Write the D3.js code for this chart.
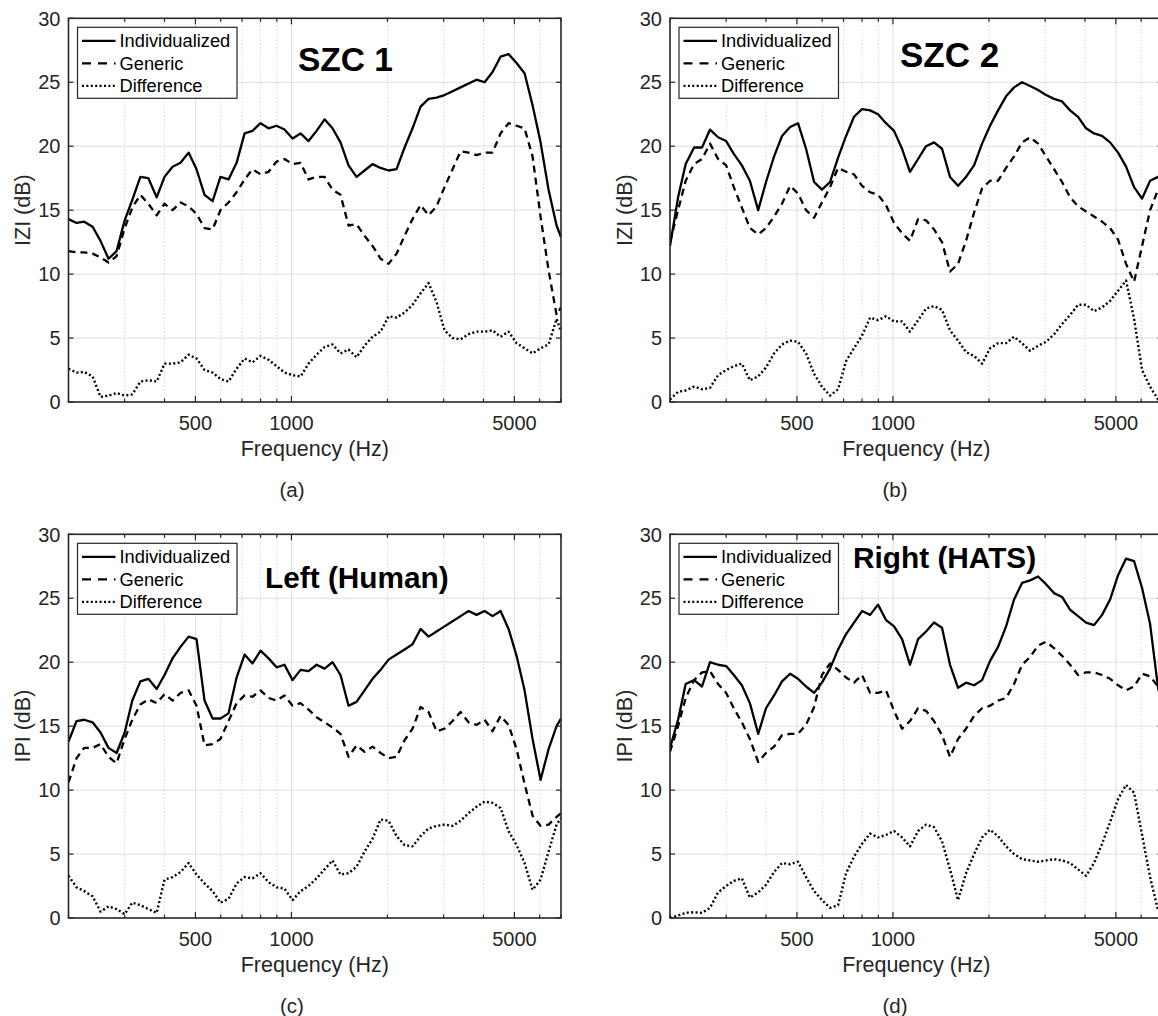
<!DOCTYPE html>
<html>
<head>
<meta charset="utf-8">
<script src="https://cdn.jsdelivr.net/npm/d3@7"></script>
<style>
	body { margin:0; background:#fff; }
	svg { display:block; font-family:"Liberation Sans", Arial, sans-serif; }
</style>
</head>
<body>
<div id="chart"></div>
<script>

// frequency grid shared by all curves (Hz)
const freqHz = [200,212,224,238,252,267,283,300,317,336,356,378,400,424,449,476,504,534,566,599,635,673,713,755,800,848,898,951,1008,1068,1131,1199,1270,1345,1425,1510,1600,1695,1796,1903,2016,2136,2263,2397,2540,2691,2851,3020,3200,3390,3592,3805,4032,4271,4525,4794,5079,5381,5701,6040,6399,6780,7000];

// (a) SZC 1, |Z| in dB
const szc1Individualized = [14.3,14.0,14.1,13.7,12.6,11.2,11.8,14.2,15.8,17.6,17.5,16.0,17.6,18.4,18.7,19.5,18.2,16.2,15.7,17.6,17.4,18.7,21.0,21.2,21.8,21.4,21.6,21.3,20.6,21.0,20.4,21.2,22.1,21.4,20.3,18.5,17.6,18.1,18.6,18.3,18.1,18.2,19.9,21.4,23.1,23.7,23.8,24.0,24.3,24.6,24.9,25.2,25.0,25.8,27.0,27.2,26.5,25.7,23.2,20.3,16.6,13.8,12.9];
const szc1Generic = [11.8,11.7,11.7,11.6,11.3,10.9,11.4,13.6,15.2,16.2,15.5,14.6,15.5,15.0,15.6,15.3,14.7,13.6,13.5,15.0,15.6,16.4,17.4,18.2,17.8,18.0,18.8,19.0,18.6,18.7,17.4,17.6,17.6,16.6,16.2,13.8,13.9,13.0,12.2,11.2,10.8,11.6,13.0,14.3,15.4,14.6,15.3,16.8,18.2,19.6,19.5,19.3,19.5,19.5,21.0,21.8,21.6,21.4,19.2,14.5,10.3,6.8,7.4];
const szc1Difference = [2.6,2.3,2.35,2.0,0.4,0.5,0.7,0.5,0.6,1.6,1.7,1.6,3.0,3.0,3.1,3.7,3.4,2.5,2.3,1.8,1.6,2.6,3.4,3.1,3.6,3.3,2.8,2.3,2.1,2.0,3.0,3.7,4.3,4.5,3.8,4.1,3.5,4.4,5.1,5.5,6.7,6.6,7.0,7.6,8.5,9.3,7.8,5.6,5.0,4.9,5.3,5.5,5.5,5.6,5.1,5.5,4.6,4.2,3.8,4.2,4.5,6.5,5.5];

// (b) SZC 2, |Z| in dB
const szc2Individualized = [12.2,16.0,18.6,19.9,19.9,21.3,20.7,20.4,19.4,18.5,17.3,15.0,17.2,19.2,20.8,21.5,21.8,19.8,17.2,16.6,17.2,19.1,20.8,22.3,22.9,22.8,22.5,21.8,21.2,19.8,18.0,19.0,20.0,20.3,19.8,17.6,16.9,17.6,18.5,20.2,21.6,22.8,23.9,24.6,25.0,24.7,24.4,24.0,23.7,23.5,22.8,22.3,21.4,21.0,20.8,20.3,19.5,18.4,16.8,15.9,17.3,17.6,17.5];
const szc2Generic = [12.5,15.0,17.3,18.6,19.0,20.2,19.0,18.5,16.8,15.2,13.6,13.1,13.6,14.5,15.5,16.9,16.3,15.0,14.4,15.6,16.8,18.3,18.0,17.8,16.9,16.4,16.2,15.4,14.0,13.2,12.6,14.3,14.2,13.5,12.5,10.2,10.8,12.6,14.8,16.7,17.3,17.3,18.3,19.2,20.3,20.7,20.2,19.2,18.2,17.2,16.0,15.3,14.9,14.5,14.1,13.6,12.7,10.8,9.4,12.2,15.0,16.6,17.0];
const szc2Difference = [0.2,0.8,0.9,1.2,1.0,1.1,2.1,2.5,2.8,3.0,1.7,2.0,2.7,3.8,4.5,4.8,4.7,3.8,2.2,1.2,0.5,1.0,3.2,4.2,5.2,6.6,6.4,6.7,6.3,6.3,5.5,6.4,7.3,7.5,7.2,5.6,4.8,3.9,3.6,3.0,4.2,4.6,4.6,5.1,4.6,4.0,4.4,4.7,5.3,6.1,6.8,7.6,7.6,7.1,7.4,7.9,8.7,9.5,6.5,2.5,1.2,0.2,0.1];

// (c) Left (Human), |P| in dB
const leftIndividualized = [13.8,15.4,15.5,15.3,14.5,13.3,12.9,14.5,17.0,18.5,18.7,17.9,19.0,20.3,21.2,22.0,21.8,17.0,15.6,15.6,16.0,18.8,20.6,19.9,20.9,20.3,19.6,19.8,18.6,19.4,19.3,19.8,19.5,20.0,19.0,16.6,16.9,17.8,18.7,19.4,20.2,20.6,21.0,21.4,22.6,22.0,22.4,22.8,23.2,23.6,24.0,23.7,24.0,23.6,24.0,22.6,20.5,17.8,14.0,10.8,13.2,15.0,15.6];
const leftGeneric = [10.6,12.5,13.3,13.3,13.6,12.6,12.1,14.0,15.5,16.7,17.1,16.8,17.5,17.0,17.6,17.8,16.6,13.5,13.6,14.0,15.4,16.8,17.4,17.3,17.8,17.2,17.0,17.4,16.6,16.8,16.3,15.7,15.3,14.9,14.4,12.6,13.5,13.0,13.4,12.9,12.5,12.6,13.9,14.8,16.5,16.1,14.6,14.8,15.4,16.1,15.3,15.1,15.5,14.6,15.8,15.1,13.2,10.5,8.0,7.2,7.3,7.9,8.2];
const leftDifference = [3.3,2.4,2.1,1.7,0.5,0.9,0.7,0.3,1.2,1.0,0.7,0.4,3.0,3.2,3.6,4.3,3.4,2.7,2.1,1.2,1.5,2.7,3.2,3.1,3.5,2.8,2.4,2.3,1.4,2.1,2.5,3.1,3.8,4.5,3.4,3.5,4.0,5.2,6.2,7.7,7.6,6.4,5.7,5.6,6.4,7.0,7.2,7.3,7.2,7.6,8.2,8.7,9.1,9.0,8.6,6.8,5.7,4.3,2.2,3.0,5.2,7.3,7.8];

// (d) Right (HATS), |P| in dB
const rightIndividualized = [13.3,15.5,18.3,18.6,18.1,20.0,19.8,19.7,19.0,18.2,16.8,14.4,16.4,17.4,18.5,19.1,18.7,18.1,17.6,18.4,19.5,21.0,22.2,23.1,24.0,23.7,24.5,23.3,22.8,21.8,19.8,21.8,22.4,23.1,22.7,19.8,18.0,18.4,18.2,18.6,20.1,21.2,22.8,24.9,26.2,26.4,26.7,26.1,25.4,25.1,24.1,23.6,23.1,22.9,23.7,24.9,26.8,28.1,27.9,25.8,23.0,18.0,16.5];
const rightGeneric = [13.0,15.0,17.2,18.6,19.2,19.3,18.3,17.6,16.4,15.3,14.0,12.2,12.9,13.4,14.3,14.4,14.4,15.1,16.5,19.0,19.9,19.4,18.8,18.4,19.0,17.6,17.6,17.8,16.2,14.8,15.4,16.4,16.2,15.4,14.3,12.6,14.0,14.8,15.8,16.4,16.6,17.0,17.2,18.3,19.8,20.4,21.3,21.6,21.1,20.5,19.8,19.0,19.2,19.2,19.0,18.7,18.2,17.8,18.1,19.1,18.9,18.1,17.8];
const rightDifference = [0.0,0.2,0.4,0.45,0.4,0.8,2.0,2.5,2.9,3.1,1.6,2.0,2.6,3.6,4.3,4.2,4.4,3.2,2.1,1.4,0.8,1.0,3.5,4.8,5.8,6.6,6.3,6.5,6.8,6.3,5.6,6.8,7.3,7.1,6.0,3.8,1.4,3.5,5.0,6.3,6.9,6.4,5.6,5.0,4.6,4.5,4.4,4.5,4.6,4.5,4.3,3.8,3.3,4.3,5.8,7.5,9.3,10.4,9.8,6.5,3.2,0.6,0.3];

const yTicks = [0,5,10,15,20,25,30];
const xMajorTicks = [500,1000,5000];
const xMinorTicks = [200,300,400,600,700,800,900,2000,3000,4000,6000,7000];
const seriesNames = ["Individualized","Generic","Difference"];
const panelTitles = ["SZC 1","SZC 2","Left (Human)","Right (HATS)"];
const panelYLabels = ["IZI (dB)","IZI (dB)","IPI (dB)","IPI (dB)"];
const panelLetters = ["(a)","(b)","(c)","(d)"];

const panelSeries = [
	[szc1Individualized, szc1Generic, szc1Difference],
	[szc2Individualized, szc2Generic, szc2Difference],
	[leftIndividualized, leftGeneric, leftDifference],
	[rightIndividualized, rightGeneric, rightDifference]
];

const W=1158, H=1016;
const dashes=[null,"7,5","2,2.4"];

// plot boxes and title placement
const boxes=[
	{left:68.5, right:561, top:18.3, bottom:402, letterX:292, title:{x:298, y:71, size:33.5}},
	{left:670, right:1162.5, top:18.3, bottom:402, letterX:895, title:{x:900, y:67, size:35}},
	{left:68.5, right:561, top:534.3, bottom:918, letterX:292, title:{x:265, y:588, size:29.8}},
	{left:670, right:1162.5, top:534.3, bottom:918, letterX:895, title:{x:853, y:568, size:29.8}}
];

const svg=d3.select("#chart").append("svg")
	.attr("width",W)
	.attr("height",H);

boxes.forEach((b,i)=>{

	let x=d3.scaleLog().domain([200,7000]).range([b.left,b.right]),
		y=d3.scaleLinear().domain([0,30]).range([b.bottom,b.top]);

	let g=svg.append("g");

	g.append("clipPath").attr("id","clip"+i)
		.append("rect")
			.attr("x",b.left)
			.attr("y",b.top)
			.attr("width",b.right-b.left)
			.attr("height",b.bottom-b.top);

	// grid
	g.selectAll(".ygrid").data(yTicks.slice(1,-1)).enter().append("line")
			.attr("x1",b.left).attr("x2",b.right)
			.attr("y1",d=>y(d)).attr("y2",d=>y(d))
			.attr("stroke","#dedede").attr("stroke-width",1);

	g.selectAll(".xminor").data(xMinorTicks.slice(1,-1)).enter().append("line")
			.attr("x1",d=>x(d)).attr("x2",d=>x(d))
			.attr("y1",b.top).attr("y2",b.bottom)
			.attr("stroke","#cfcfcf").attr("stroke-width",1)
			.attr("stroke-dasharray","1.2,2.4");

	g.selectAll(".xmajor").data(xMajorTicks).enter().append("line")
			.attr("x1",d=>x(d)).attr("x2",d=>x(d))
			.attr("y1",b.top).attr("y2",b.bottom)
			.attr("stroke","#dedede").attr("stroke-width",1);

	// curves
	let line=d3.line()
			.x((d,j)=>x(freqHz[j]))
			.y(d=>y(d));

	let curves=g.append("g").attr("clip-path","url(#clip"+i+")");
	panelSeries[i].forEach((vals,s)=>{
		curves.append("path")
				.attr("d",line(vals))
				.attr("fill","none")
				.attr("stroke","#000")
				.attr("stroke-width",s==2 ? 2.4 : 2.3)
				.attr("stroke-linejoin","round")
				.attr("stroke-dasharray",dashes[s]);
	});

	// ticks inward on all sides
	let tk=g.append("g").attr("stroke","#262626").attr("stroke-width",1.2);
	yTicks.forEach(v=>{
		tk.append("line").attr("x1",b.left).attr("x2",b.left+5).attr("y1",y(v)).attr("y2",y(v));
		tk.append("line").attr("x1",b.right).attr("x2",b.right-5).attr("y1",y(v)).attr("y2",y(v));
	});
	xMajorTicks.forEach(f=>{
		tk.append("line").attr("x1",x(f)).attr("x2",x(f)).attr("y1",b.bottom).attr("y2",b.bottom-6);
		tk.append("line").attr("x1",x(f)).attr("x2",x(f)).attr("y1",b.top).attr("y2",b.top+6);
	});
	xMinorTicks.forEach(f=>{
		tk.append("line").attr("x1",x(f)).attr("x2",x(f)).attr("y1",b.bottom).attr("y2",b.bottom-3.5);
		tk.append("line").attr("x1",x(f)).attr("x2",x(f)).attr("y1",b.top).attr("y2",b.top+3.5);
	});

	// frame
	g.append("rect")
			.attr("x",b.left).attr("y",b.top)
			.attr("width",b.right-b.left).attr("height",b.bottom-b.top)
			.attr("fill","none").attr("stroke","#262626").attr("stroke-width",1.6);

	// tick labels
	g.selectAll(".ylab").data(yTicks).enter().append("text")
			.attr("x",b.left-8).attr("y",d=>y(d)).attr("dy","0.36em")
			.attr("text-anchor","end").attr("font-size",20).attr("fill","#262626")
			.text(d=>d);

	g.selectAll(".xlab").data(xMajorTicks).enter().append("text")
			.attr("x",d=>x(d)).attr("y",b.bottom+28)
			.attr("text-anchor","middle").attr("font-size",20).attr("fill","#262626")
			.text(d=>d);

	g.append("text")
			.attr("x",(b.left+Math.min(b.right,1162.5))/2).attr("y",b.bottom+53.5)
			.attr("text-anchor","middle").attr("font-size",21.5).attr("fill","#262626")
			.text("Frequency (Hz)");

	g.append("text")
			.attr("transform","translate("+(b.left-46)+","+((b.top+b.bottom)/2)+") rotate(-90)")
			.attr("dy","0.36em")
			.attr("text-anchor","middle").attr("font-size",21.5).attr("fill","#262626")
			.text(panelYLabels[i]);

	g.append("text")
			.attr("x",b.letterX).attr("y",b.bottom+95)
			.attr("text-anchor","middle").attr("font-size",20.5).attr("fill","#262626")
			.text(panelLetters[i]);

	// title
	g.append("text")
			.attr("x",b.title.x).attr("y",b.title.y)
			.attr("font-size",b.title.size).attr("font-weight","bold").attr("fill","#000")
			.text(panelTitles[i]);

	// legend
	let lg=g.append("g").attr("transform","translate("+(b.left+9)+","+(b.top+9)+")");
	lg.append("rect")
			.attr("width",159.5).attr("height",71)
			.attr("fill","#fff").attr("stroke","#262626").attr("stroke-width",1.2);
	seriesNames.forEach((name,s)=>{
		let ly=13.5+s*22.5;
		lg.append("line")
				.attr("x1",4.5).attr("x2",38).attr("y1",ly).attr("y2",ly)
				.attr("stroke","#000").attr("stroke-width",2.3)
				.attr("stroke-dasharray",s==1 ? "9,7" : dashes[s]);
		lg.append("text")
				.attr("x",42).attr("y",ly).attr("dy","0.36em")
				.attr("font-size",18.3).attr("fill","#000")
				.text(name);
	});
});

</script>
</body>
</html>
